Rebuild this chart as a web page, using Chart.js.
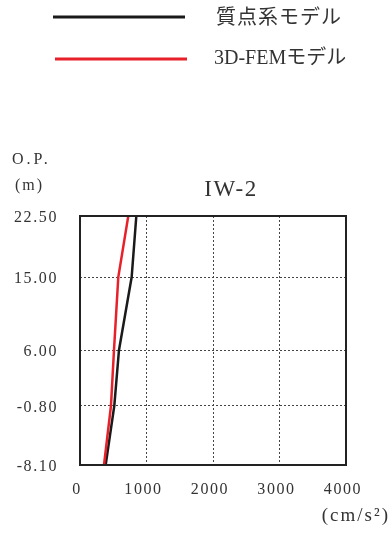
<!DOCTYPE html>
<html>
<head>
<meta charset="utf-8">
<script src="https://cdn.jsdelivr.net/npm/chart.js@4.4.1/dist/chart.umd.min.js"></script>
<style>
  html, body { margin: 0; padding: 0; background: #fff; }
  #wrap { width: 391px; height: 533px; position: relative; }
</style>
</head>
<body>
<div id="wrap"><canvas id="c"></canvas></div>
<script>
// Elevations (O.P., m) and peak accelerations (cm/s²) per model
const elevations = [22.5, 15.0, 6.0, -0.8, -8.1];
const massModel = [847, 777, 586, 516, 386];
const femModel = [726, 576, 511, 466, 361];

const seriesNames = ['質点系モデル', '3D-FEMモデル'];
const seriesColors = ['#1a1a1a', '#e8202a'];

const yTickValues = [22.5, 15.0, 6.0, -0.8, -8.1];
const yTickLabels = ['22.50', '15.00', '6.00', '-0.80', '-8.10'];
const xTickLabels = ['0', '1000', '2000', '3000', '4000'];

const chartTitle = 'IW-2';
const yUnit = ['O.P.', '(m)'];
const xUnit = '(cm/s²)';

const FONT = '"Liberation Serif", "Noto Sans CJK JP", serif';
const TEXT = '#333';

const toPoints = (vals) => vals.map((v, i) => ({ x: v, y: elevations[i] }));

// Frame, legend and captions
const decorations = {
  id: 'decorations',
  beforeDraw(chart) {
    // slightly tracked numerals for the axis ticks
    chart.ctx.letterSpacing = '1.6px';
  },
  afterDatasetsDraw(chart) {
    const { ctx, chartArea: a } = chart;
    ctx.save();
    ctx.strokeStyle = '#222';
    ctx.lineWidth = 2;
    ctx.strokeRect(a.left, a.top, a.right - a.left, a.bottom - a.top);
    ctx.restore();
  },
  afterDraw(chart) {
    const { ctx } = chart;
    ctx.save();
    ctx.letterSpacing = '0px';
    // legend rows
    const rows = [
      { x0: 53, x1: 185, y: 17, tx: 216, ty: 19 },
      { x0: 55, x1: 187, y: 59, tx: 214, ty: 59 }
    ];
    chart.data.datasets.forEach((ds, i) => {
      const r = rows[i];
      ctx.strokeStyle = ds.borderColor;
      ctx.lineWidth = 3;
      ctx.beginPath();
      ctx.moveTo(r.x0, r.y);
      ctx.lineTo(r.x1, r.y);
      ctx.stroke();
      ctx.fillStyle = TEXT;
      ctx.font = '20px ' + FONT;
      ctx.letterSpacing = i === 0 ? '1px' : '0px';
      ctx.textAlign = 'left';
      ctx.textBaseline = 'middle';
      ctx.fillText(ds.label, r.tx, r.ty);
    });
    // title
    ctx.font = '23px ' + FONT;
    ctx.letterSpacing = '1.5px';
    ctx.textAlign = 'center';
    ctx.fillText(chartTitle, 231, 190);
    // y unit
    ctx.font = '16px ' + FONT;
    ctx.letterSpacing = '3px';
    ctx.textAlign = 'left';
    ctx.fillText(yUnit[0], 12, 160);
    ctx.letterSpacing = '2px';
    ctx.fillText(yUnit[1], 15, 186);
    // x unit
    ctx.font = '19px ' + FONT;
    ctx.letterSpacing = '2px';
    ctx.textAlign = 'right';
    ctx.fillText(xUnit, 390, 516);
    ctx.restore();
    ctx.letterSpacing = '0px';
  }
};

new Chart(document.getElementById('c'), {
  type: 'scatter',
  data: {
    datasets: [
      {
        label: seriesNames[0],
        data: toPoints(massModel),
        borderColor: seriesColors[0],
        backgroundColor: seriesColors[0],
        showLine: true,
        borderWidth: 2.5,
        pointRadius: 0,
        order: 2
      },
      {
        label: seriesNames[1],
        data: toPoints(femModel),
        borderColor: seriesColors[1],
        backgroundColor: seriesColors[1],
        showLine: true,
        borderWidth: 2.5,
        pointRadius: 0,
        order: 1
      }
    ]
  },
  options: {
    responsive: true,
    maintainAspectRatio: false,
    animation: false,
    layout: { padding: { top: 216, right: 45, left: 0, bottom: 0 } },
    plugins: {
      legend: { display: false },
      title: { display: false },
      tooltip: { enabled: false }
    },
    scales: {
      x: {
        type: 'linear',
        min: 0,
        max: 4000,
        afterFit(s) { s.height = 68; },
        afterBuildTicks(s) { s.ticks = xTickLabels.map(t => ({ value: Number(t) })); },
        ticks: {
          callback: (v, i) => xTickLabels[i],
          color: TEXT,
          font: { family: FONT, size: 16 },
          padding: 15,
          labelOffset: -3,
          maxRotation: 0
        },
        grid: {
          color: (c) => (c.tick && (c.tick.value === 0 || c.tick.value === 4000)) ? 'rgba(0,0,0,0)' : '#444',
          lineWidth: 1,
          drawTicks: false
        },
        border: { display: false, dash: [2, 2] }
      },
      y: {
        type: 'linear',
        min: -8.1,
        max: 22.5,
        afterFit(s) { s.width = 80; },
        afterBuildTicks(s) { s.ticks = yTickValues.map(v => ({ value: v })); },
        ticks: {
          callback: (v, i) => yTickLabels[i],
          color: TEXT,
          font: { family: FONT, size: 16 },
          padding: 22,
          labelOffset: 2
        },
        grid: {
          color: (c) => (c.tick && (c.tick.value === -8.1 || c.tick.value === 22.5)) ? 'rgba(0,0,0,0)' : '#444',
          lineWidth: 1,
          drawTicks: false
        },
        border: { display: false, dash: [2, 2] }
      }
    }
  },
  plugins: [decorations]
});
</script>
</body>
</html>
